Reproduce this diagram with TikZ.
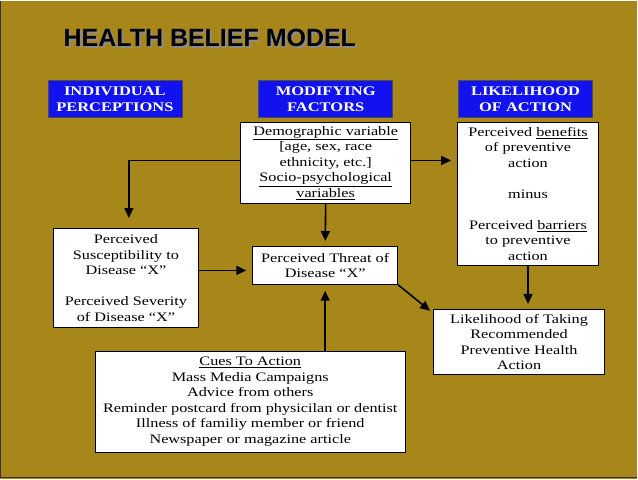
\documentclass[tikz,border=0pt]{standalone}
\usepackage{fontspec}
\setmainfont{Liberation Serif}[FakeStretch=1.25]
\newfontfamily\titlefont{Liberation Sans}
\usetikzlibrary{arrows.meta}
\definecolor{bg}{RGB}{168,135,26}
\definecolor{hdrblue}{RGB}{18,18,238}
\tikzset{
  x=1pt,y=-1pt,
  wbox/.style={draw=black,line width=0.8pt,fill=white,inner sep=0pt,align=center,font=\fontsize{13}{15.5}\selectfont},
  hbox/.style={draw=black!70,line width=0.6pt,fill=hdrblue,inner sep=0pt,align=center,text=white,font=\fontsize{13.2}{16}\selectfont\bfseries,minimum width=134pt,minimum height=37pt},
  arr/.style={line width=1.6pt,-{Triangle[length=10pt,width=9pt]}}
}
\newcommand{\shadowtext}[1]{\makebox[0pt][l]{\kern2pt\raisebox{-2pt}{\color{black!45}#1}}#1}
\begin{document}
\begin{tikzpicture}
\fill[bg] (0,0) rectangle (638,479);
\draw[black!80,line width=1.2pt] (0.6,0) -- (0.6,477.5) -- (638,477.5);
\useasboundingbox (0,0) rectangle (638,479);
% title
\node[text=black,font=\titlefont\fontsize{25}{25}\selectfont\bfseries] (title) at (210,38) {\shadowtext{HEALTH BELIEF MODEL}};
% headers
\node[hbox] (h1) at (115,98.5) {INDIVIDUAL\\PERCEPTIONS};
\node[hbox] (h2) at (326,98.5) {MODIFYING\\FACTORS};
\node[hbox] (h3) at (526,98.5) {LIKELIHOOD\\OF ACTION};
% boxes
\node[wbox,minimum width=170pt,minimum height=81pt] (demo) at (326,162.5)
 {\underline{Demographic variable}\\{[}age, sex, race\\ethnicity, etc.{]}\\\underline{Socio-psychological}\\\underline{variables}};
\node[wbox,minimum width=141pt,minimum height=143pt] (ben) at (528.5,193.5)
 {Perceived \underline{benefits}\\of preventive\\action\\[15.5pt]minus\\[15.5pt]Perceived \underline{barriers}\\to preventive\\action};
\node[wbox,minimum width=146pt,minimum height=99pt] (sus) at (126,277.5)
 {Perceived\\Susceptibility to\\Disease “X”\\[15.5pt]Perceived Severity\\of Disease “X”};
\node[wbox,minimum width=145pt,minimum height=38pt] (thr) at (325.5,265)
 {Perceived Threat of\\Disease “X”};
\node[wbox,minimum width=171pt,minimum height=65pt] (lik) at (519.5,341.5)
 {Likelihood of Taking\\Recommended\\Preventive Health\\Action};
\node[wbox,minimum width=311pt,minimum height=101pt] (cue) at (250.5,401.5)
 {\underline{Cues To Action}\\Mass Media Campaigns\\Advice from others\\Reminder postcard from physicilan or dentist\\Illness of familiy member or friend\\Newspaper or magazine article};
% arrows
\draw[arr,shorten >=10pt] (demo.west |- 0,160) -| (sus.north -| 129,0);
\draw[arr,shorten >=6pt] (demo.east |- 0,160) -- (ben.west |- 0,160);
\draw[arr,shorten >=5pt] (demo.south) -- (thr.north);
\draw[arr,shorten >=6pt] (sus.east |- 0,270) -- (thr.west |- 0,270);
\draw[arr,shorten >=6pt] (cue.north -| thr.south) -- (thr.south);
\draw[arr,shorten >=4pt] (thr.south east) -- (lik.west |- 0,313);
\draw[arr,shorten >=5pt] (ben.south) -- (lik.north -| ben.south);
\end{tikzpicture}
\end{document}
